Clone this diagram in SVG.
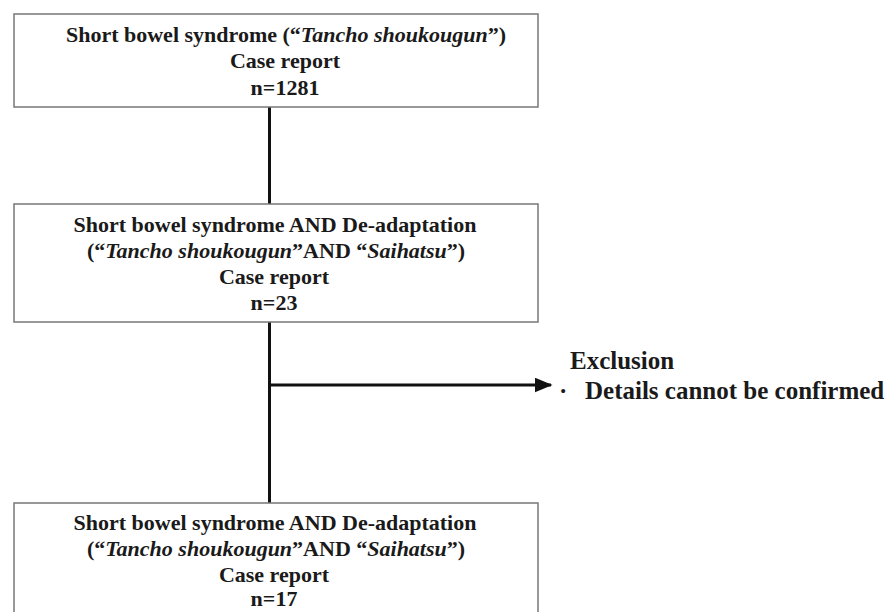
<svg xmlns="http://www.w3.org/2000/svg" width="893" height="612" viewBox="0 0 893 612">
<style>
.box{fill:#fff;stroke:#777;stroke-width:1.5}
.t{font-family:"Liberation Serif","Times New Roman",serif;font-weight:bold;font-size:22px;fill:#1a1a1a;text-anchor:middle}
.x{font-family:"Liberation Serif","Times New Roman",serif;font-weight:bold;font-size:25px;fill:#1a1a1a}
.i{font-style:italic}
.ln{stroke:#111;stroke-width:3;fill:none}
</style>
<defs>
<marker id="ah" markerWidth="6" markerHeight="5" refX="5.5" refY="2.5" orient="auto" markerUnits="strokeWidth">
<path d="M0,0 L6,2.5 L0,5 Z" fill="#111"/>
</marker>
</defs>
<rect width="893" height="612" fill="#fff"/>
<g id="connectors">
<line class="ln" x1="269.5" y1="107" x2="269.5" y2="204"/>
<line class="ln" x1="269.5" y1="322" x2="269.5" y2="503"/>
<line class="ln" x1="269.5" y1="385" x2="551" y2="385" marker-end="url(#ah)"/>
</g>
<g id="box1">
<rect class="box" x="14" y="14" width="524" height="93"/>
<text class="t" x="286" y="42">Short bowel syndrome (“<tspan class="i">Tancho shoukougun</tspan>”)</text>
<text class="t" x="285" y="68">Case report</text>
<text class="t" x="285" y="95">n=1281</text>
</g>
<g id="box2">
<rect class="box" x="14" y="204" width="524" height="118"/>
<text class="t" x="275" y="232">Short bowel syndrome AND De-adaptation</text>
<text class="t" x="276" y="258">(“<tspan class="i">Tancho shoukougun</tspan>”AND “<tspan class="i">Saihatsu</tspan>”)</text>
<text class="t" x="274" y="284">Case report</text>
<text class="t" x="274" y="310">n=23</text>
</g>
<g id="exclusion">
<text class="x" x="570" y="369">Exclusion</text>
<text class="x" x="559" y="399">·<tspan x="585">Details cannot be confirmed</tspan></text>
</g>
<g id="box3">
<rect class="box" x="14" y="503" width="524" height="130"/>
<text class="t" x="275" y="530">Short bowel syndrome AND De-adaptation</text>
<text class="t" x="276" y="556">(“<tspan class="i">Tancho shoukougun</tspan>”AND “<tspan class="i">Saihatsu</tspan>”)</text>
<text class="t" x="274" y="582">Case report</text>
<text class="t" x="274" y="606">n=17</text>
</g>
</svg>
